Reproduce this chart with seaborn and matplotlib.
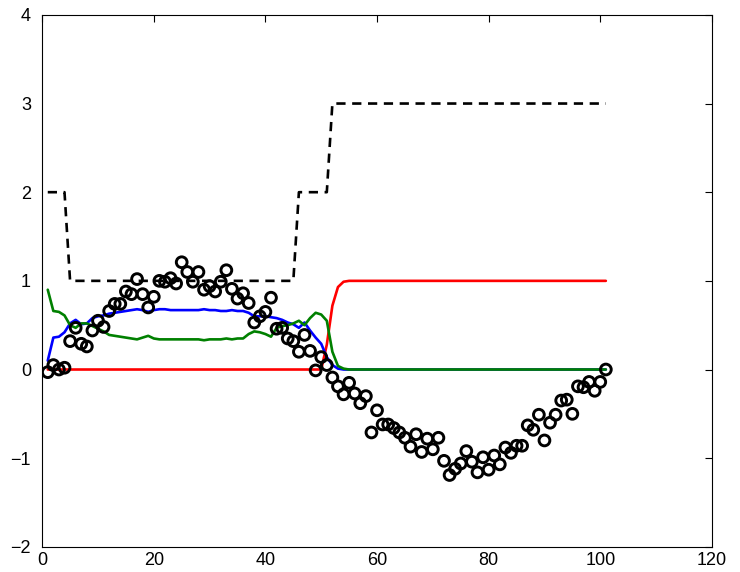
import numpy as np
import matplotlib
matplotlib.use("Agg")
import matplotlib.pyplot as plt
import seaborn as sns

# sample index
t = np.arange(1, 102)

# observed values (circles)
obs = [-0.03, 0.05, 0.00, 0.02, 0.32, 0.47, 0.29, 0.26, 0.44, 0.55,
       0.48, 0.66, 0.74, 0.74, 0.88, 0.85, 1.02, 0.85, 0.70, 0.82,
       1.00, 0.99, 1.03, 0.97, 1.21, 1.10, 0.99, 1.10, 0.90, 0.94,
       0.88, 0.99, 1.12, 0.91, 0.80, 0.86, 0.75, 0.53, 0.60, 0.65,
       0.81, 0.46, 0.47, 0.35, 0.32, 0.20, 0.39, 0.21, -0.01, 0.14,
       0.05, -0.09, -0.19, -0.28, -0.15, -0.27, -0.38, -0.30, -0.71, -0.46,
       -0.62, -0.62, -0.66, -0.71, -0.77, -0.87, -0.73, -0.93, -0.78, -0.90,
       -0.77, -1.03, -1.19, -1.12, -1.06, -0.92, -1.04, -1.16, -0.99, -1.13,
       -0.97, -1.07, -0.88, -0.94, -0.86, -0.86, -0.63, -0.68, -0.51, -0.80,
       -0.60, -0.51, -0.35, -0.34, -0.50, -0.19, -0.20, -0.14, -0.24, -0.14,
       0.00]

# state sequence (dashed)
state = [2] * 4 + [1] * 41 + [2] * 6 + [3] * 50

# state probabilities
p_blue = ([0.10, 0.36, 0.37, 0.42, 0.52, 0.56, 0.51, 0.52, 0.58, 0.60,
           0.61, 0.63, 0.64, 0.65, 0.66, 0.67, 0.68, 0.67, 0.65, 0.67]
          + [0.68, 0.68, 0.67, 0.67, 0.67, 0.67, 0.67, 0.67, 0.68, 0.67,
             0.67, 0.66, 0.66, 0.67, 0.66, 0.66]
          + [0.64, 0.60, 0.60, 0.60, 0.59, 0.58, 0.56, 0.53, 0.51, 0.47,
             0.53, 0.44, 0.36, 0.29, 0.14, 0.05, 0.01]
          + [0.0] * 48)
p_green = ([0.90, 0.66, 0.65, 0.61, 0.50, 0.47, 0.52, 0.52, 0.49, 0.46,
            0.43, 0.39, 0.38, 0.37, 0.36, 0.35, 0.34, 0.36, 0.38, 0.35]
           + [0.34, 0.34, 0.34, 0.34, 0.34, 0.34, 0.34, 0.34, 0.33, 0.34,
              0.34, 0.34, 0.35, 0.34, 0.35, 0.35]
           + [0.40, 0.43, 0.42, 0.40, 0.37, 0.47, 0.49, 0.50, 0.52, 0.55,
              0.50, 0.58, 0.64, 0.62, 0.55, 0.20, 0.04, 0.01]
           + [0.0] * 47)
p_red = [0.0] * 50 + [0.28, 0.72, 0.93, 0.99] + [1.0] * 47

sns.set_style("white")
plt.rcParams['font.family'] = ['Liberation Sans', 'DejaVu Sans']

fig = plt.figure(figsize=(7.4, 5.72), dpi=100)
ax = fig.add_axes([0.057, 0.044, 0.905, 0.93])

lw = 1.9
sns.lineplot(x=t, y=state, ax=ax, color='black', linewidth=lw,
             linestyle=(0, (3.5, 2.5)), estimator=None)
sns.lineplot(x=t, y=p_red, ax=ax, color='red', linewidth=lw, estimator=None)
sns.lineplot(x=t, y=p_blue, ax=ax, color='blue', linewidth=lw, estimator=None)
sns.lineplot(x=t, y=p_green, ax=ax, color=(0, 0.5, 0), linewidth=lw, estimator=None)
sns.scatterplot(x=t, y=obs, ax=ax, marker='o', s=60, facecolor='none',
                edgecolor='black', linewidth=2.1, zorder=5)

ax.set_xlim(0, 120)
ax.set_ylim(-2, 4)
ax.set_xticks(np.arange(0, 121, 20))
ax.set_yticks(np.arange(-2, 5, 1))
ax.set_yticklabels(['\u22122', '\u22121', '0', '1', '2', '3', '4'])
ax.tick_params(direction='in', length=5, width=0.8, labelsize=13,
               top=True, right=True, colors='black')
ax.tick_params(axis='y', pad=8)
for s in ax.spines.values():
    s.set_color('black')
    s.set_linewidth(0.8)

fig.savefig("out.png", dpi=100)
